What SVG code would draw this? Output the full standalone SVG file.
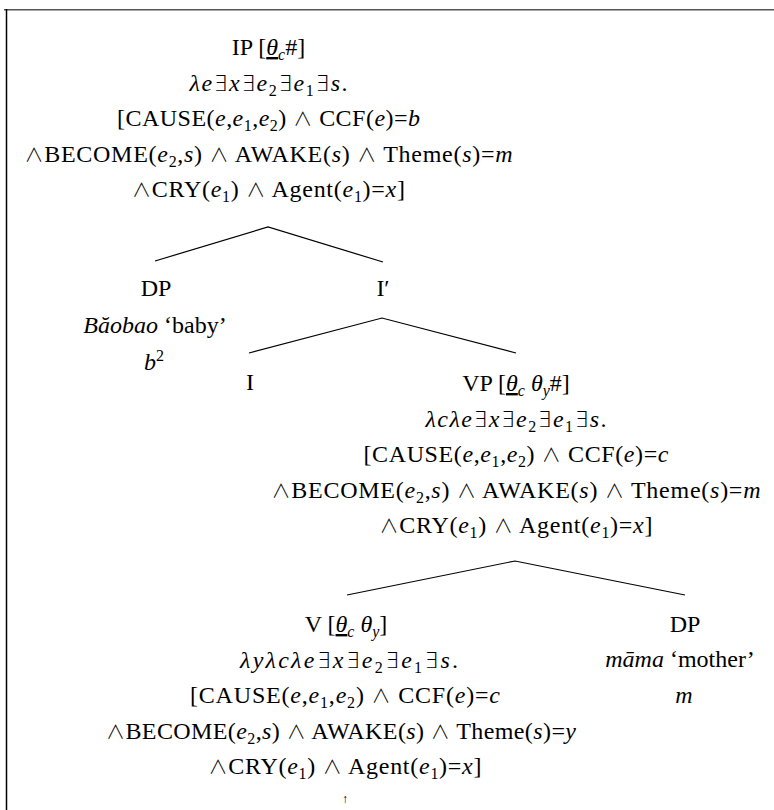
<svg xmlns="http://www.w3.org/2000/svg" width="774" height="810" viewBox="0 0 774 810">
<style>
text{font-family:"Liberation Serif","DejaVu Serif",serif;font-size:24px;fill:#000;text-anchor:middle}
.i{font-style:italic}
.s{font-size:16px}
.u{text-decoration:underline}
.m{font-family:"DejaVu Sans","DejaVu Serif",sans-serif;font-weight:200;font-size:22px}
.w{font-family:"Noto Sans CJK JP","Noto Sans CJK SC","DejaVu Sans",sans-serif;font-weight:300;font-size:19px}
.edge{stroke:#000;stroke-width:1.2;fill:none}
</style>
<rect width="774" height="810" fill="#fff"/>
<g id="frame">
<line x1="4" y1="9.8" x2="774" y2="9.8" stroke="#555" stroke-width="1.6"/>
<line x1="6.5" y1="9" x2="6.5" y2="810" stroke="#000" stroke-width="1.5"/>
</g>
<g id="connectors">
<path class="edge" d="M155,261 L268,227 L383,262"/>
<path class="edge" d="M249,353 L382,318 L516,353"/>
<path class="edge" d="M347,595 L515,561 L685,595"/>
</g>
<g id="n-ip">
<text x="268.5" y="55">IP [<tspan class="i u">θ</tspan><tspan class="i s" dy="5">c</tspan><tspan dy="-5">#]</tspan></text>
<text x="268.5" y="90.5" textLength="158"><tspan class="i">λe</tspan><tspan class="m">∃</tspan><tspan class="i">x</tspan><tspan class="m">∃</tspan><tspan class="i">e</tspan><tspan class="s" dy="5">2</tspan><tspan class="m" dy="-5">∃</tspan><tspan class="i">e</tspan><tspan class="s" dy="5">1</tspan><tspan class="m" dy="-5">∃</tspan><tspan class="i">s</tspan>.</text>
<text x="268.5" y="126" textLength="303">[CAUSE(<tspan class="i">e</tspan>,<tspan class="i">e</tspan><tspan class="s" dy="5">1</tspan><tspan dy="-5">,</tspan><tspan class="i">e</tspan><tspan class="s" dy="5">2</tspan><tspan dy="-5">) </tspan><tspan class="w">∧</tspan> CCF(<tspan class="i">e</tspan>)=<tspan class="i">b</tspan></text>
<text x="268.5" y="161.5" textLength="488"><tspan class="w">∧</tspan>BECOME(<tspan class="i">e</tspan><tspan class="s" dy="5">2</tspan><tspan dy="-5">,</tspan><tspan class="i">s</tspan>) <tspan class="w">∧</tspan> AWAKE(<tspan class="i">s</tspan>) <tspan class="w">∧</tspan> Theme(<tspan class="i">s</tspan>)=<tspan class="i">m</tspan></text>
<text x="268.5" y="197" textLength="273"><tspan class="w">∧</tspan>CRY(<tspan class="i">e</tspan><tspan class="s" dy="5">1</tspan><tspan dy="-5">) </tspan><tspan class="w">∧</tspan> Agent(<tspan class="i">e</tspan><tspan class="s" dy="5">1</tspan><tspan dy="-5">)=</tspan><tspan class="i">x</tspan>]</text>
</g>
<g id="n-dp1">
<text x="156" y="296">DP</text>
<text x="155" y="333"><tspan class="i">Băobao</tspan> ‘baby’</text>
<text x="154" y="370"><tspan class="i">b</tspan><tspan class="s" dy="-9">2</tspan></text>
</g>
<g id="n-ibar">
<text x="383" y="296">I′</text>
</g>
<g id="n-i">
<text x="250" y="390">I</text>
</g>
<g id="n-vp">
<text x="516" y="391">VP [<tspan class="i u">θ</tspan><tspan class="i s" dy="5">c</tspan><tspan dy="-5"> </tspan><tspan class="i">θ</tspan><tspan class="i s" dy="5">y</tspan><tspan dy="-5">#]</tspan></text>
<text x="516" y="426.5" textLength="181"><tspan class="i">λcλe</tspan><tspan class="m">∃</tspan><tspan class="i">x</tspan><tspan class="m">∃</tspan><tspan class="i">e</tspan><tspan class="s" dy="5">2</tspan><tspan class="m" dy="-5">∃</tspan><tspan class="i">e</tspan><tspan class="s" dy="5">1</tspan><tspan class="m" dy="-5">∃</tspan><tspan class="i">s</tspan>.</text>
<text x="516" y="462" textLength="305">[CAUSE(<tspan class="i">e</tspan>,<tspan class="i">e</tspan><tspan class="s" dy="5">1</tspan><tspan dy="-5">,</tspan><tspan class="i">e</tspan><tspan class="s" dy="5">2</tspan><tspan dy="-5">) </tspan><tspan class="w">∧</tspan> CCF(<tspan class="i">e</tspan>)=<tspan class="i">c</tspan></text>
<text x="516" y="497.5" textLength="489"><tspan class="w">∧</tspan>BECOME(<tspan class="i">e</tspan><tspan class="s" dy="5">2</tspan><tspan dy="-5">,</tspan><tspan class="i">s</tspan>) <tspan class="w">∧</tspan> AWAKE(<tspan class="i">s</tspan>) <tspan class="w">∧</tspan> Theme(<tspan class="i">s</tspan>)=<tspan class="i">m</tspan></text>
<text x="516" y="533" textLength="273"><tspan class="w">∧</tspan>CRY(<tspan class="i">e</tspan><tspan class="s" dy="5">1</tspan><tspan dy="-5">) </tspan><tspan class="w">∧</tspan> Agent(<tspan class="i">e</tspan><tspan class="s" dy="5">1</tspan><tspan dy="-5">)=</tspan><tspan class="i">x</tspan>]</text>
</g>
<g id="n-v">
<text x="346" y="632">V [<tspan class="i u">θ</tspan><tspan class="i s" dy="5">c</tspan><tspan dy="-5"> </tspan><tspan class="i">θ</tspan><tspan class="i s" dy="5">y</tspan><tspan dy="-5">]</tspan></text>
<text x="349" y="667.5" textLength="218"><tspan class="i">λyλcλe</tspan><tspan class="m">∃</tspan><tspan class="i">x</tspan><tspan class="m">∃</tspan><tspan class="i">e</tspan><tspan class="s" dy="5">2</tspan><tspan class="m" dy="-5">∃</tspan><tspan class="i">e</tspan><tspan class="s" dy="5">1</tspan><tspan class="m" dy="-5">∃</tspan><tspan class="i">s</tspan>.</text>
<text x="345" y="703" textLength="310">[CAUSE(<tspan class="i">e</tspan>,<tspan class="i">e</tspan><tspan class="s" dy="5">1</tspan><tspan dy="-5">,</tspan><tspan class="i">e</tspan><tspan class="s" dy="5">2</tspan><tspan dy="-5">) </tspan><tspan class="w">∧</tspan> CCF(<tspan class="i">e</tspan>)=<tspan class="i">c</tspan></text>
<text x="341" y="738.5" textLength="470"><tspan class="w">∧</tspan>BECOME(<tspan class="i">e</tspan><tspan class="s" dy="5">2</tspan><tspan dy="-5">,</tspan><tspan class="i">s</tspan>) <tspan class="w">∧</tspan> AWAKE(<tspan class="i">s</tspan>) <tspan class="w">∧</tspan> Theme(<tspan class="i">s</tspan>)=<tspan class="i">y</tspan></text>
<text x="345" y="774" textLength="273"><tspan class="w">∧</tspan>CRY(<tspan class="i">e</tspan><tspan class="s" dy="5">1</tspan><tspan dy="-5">) </tspan><tspan class="w">∧</tspan> Agent(<tspan class="i">e</tspan><tspan class="s" dy="5">1</tspan><tspan dy="-5">)=</tspan><tspan class="i">x</tspan>]</text>
<text x="345" y="803" style="font-size:12px">↑</text>
</g>
<g id="n-dp2">
<text x="685" y="632">DP</text>
<text x="680" y="667"><tspan class="i">māma</tspan> ‘mother’</text>
<text x="684" y="703" class="i">m</text>
</g>
</svg>
